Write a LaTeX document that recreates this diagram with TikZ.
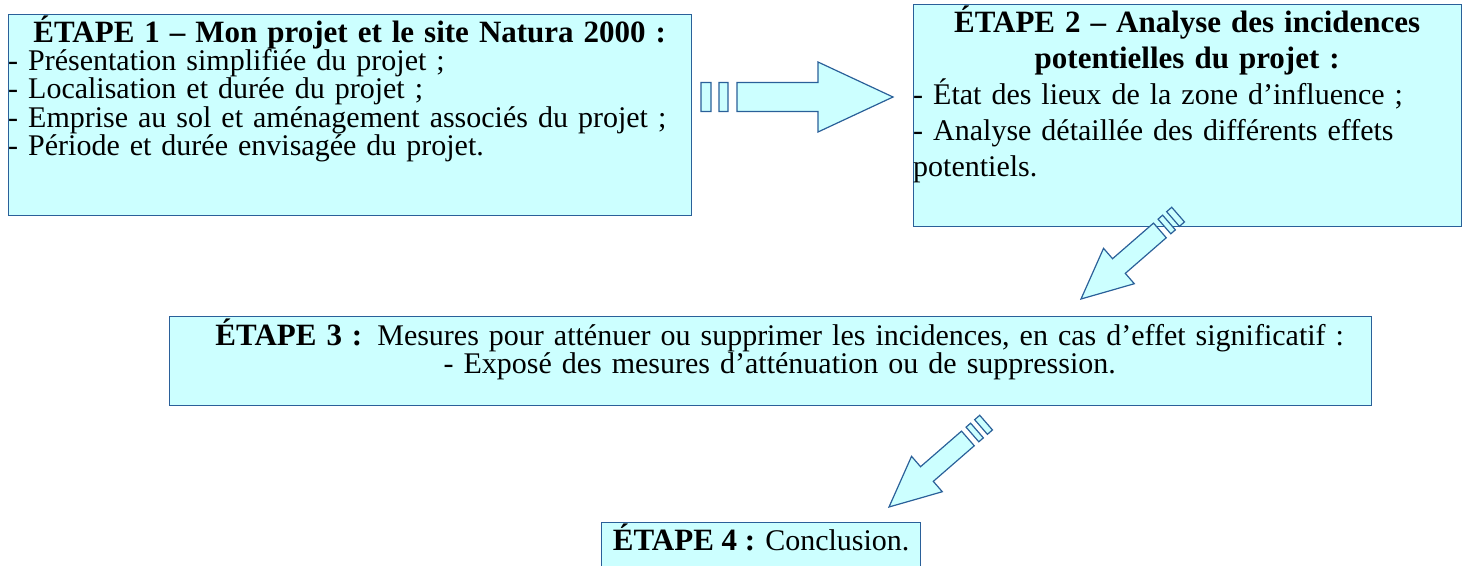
\documentclass[tikz,border=0pt]{standalone}
\usepackage{fontspec}
\setmainfont{Liberation Serif}
\usetikzlibrary{positioning,calc}
\definecolor{boxfill}{HTML}{CCFFFF}
\definecolor{boxline}{HTML}{2A6099}
\newcommand\etapebf[1]{{\fontsize{31}{27}\selectfont\bfseries #1}}

\tikzset{
  fatarrow/.pic={
    \draw[boxline, fill=boxfill, line width=1.2pt]
      (-192,-14.5) rectangle (-182,14.5)
      (-174,-14.5) rectangle (-165,14.5)
      (-156,-14.5) -- (-75,-14.5) -- (-75,-35) -- (0,0) -- (-75,35) -- (-75,14.5) -- (-156,14.5) -- cycle;
  }
}

\begin{document}
\begin{tikzpicture}[x=1pt,y=-1pt,
    etape/.style={draw=boxline, fill=boxfill, line width=1.4pt, inner sep=0pt, anchor=north west},
    txt/.style={inner sep=0pt, font=\fontsize{30}{27}\selectfont}]
  \clip (0,0) rectangle (1467,565);
  % boxes
  \node[etape, minimum width=683pt, minimum height=201pt] (e1) at (8,14) {};
  \node[etape, minimum width=548pt, minimum height=222pt] (e2) at (913,4) {};
  \node[etape, minimum width=1202pt, minimum height=89pt] (e3) at (169,316) {};
  \node[etape, minimum width=319pt, minimum height=70pt] (e4) at (601,522) {};
  % texts
  \node[txt, text width=683pt, align=left, anchor=base west] (t1) at ([yshift=-28pt]e1.north west)
    {{\centering\etapebf{ÉTAPE 1 – Mon projet et le site Natura 2000 :}\par}
     - Présentation simplifiée du projet ;\\
     - Localisation et durée du projet ;\\
     - Emprise au sol et aménagement associés du projet ;\\
     - Période et durée envisagée du projet.};
  \node[txt, font=\fontsize{30}{36}\selectfont, text width=548pt, align=left, anchor=base west] (t2) at ([yshift=-28pt]e2.north west)
    {{\centering\fontsize{31}{36}\selectfont\bfseries ÉTAPE 2 – Analyse des incidences\\ potentielles du projet :\par}
     - État des lieux de la zone d’influence ;\\
     - Analyse détaillée des différents effets\\
     potentiels.};
  \node[txt, text width=1202pt, align=center, anchor=base] (t3) at ([yshift=-29pt,xshift=9pt]e3.north)
    {\etapebf{ÉTAPE 3 :} Mesures pour atténuer ou supprimer les incidences, en cas d’effet significatif :\\
     - Exposé des mesures d’atténuation ou de suppression.};
  \node[txt, anchor=base] (t4) at ([yshift=-28pt]e4.north) {\etapebf{ÉTAPE 4 :} Conclusion.};
  % arrows
  \coordinate (a12) at (893,97);
  \coordinate (a23) at (1081,299);
  \coordinate (a34) at (889,507);
  \pic at (a12) {fatarrow};
  \pic[rotate=221, scale=0.67] at (a23) {fatarrow};
  \pic[rotate=221, scale=0.67] at (a34) {fatarrow};
\end{tikzpicture}
\end{document}
